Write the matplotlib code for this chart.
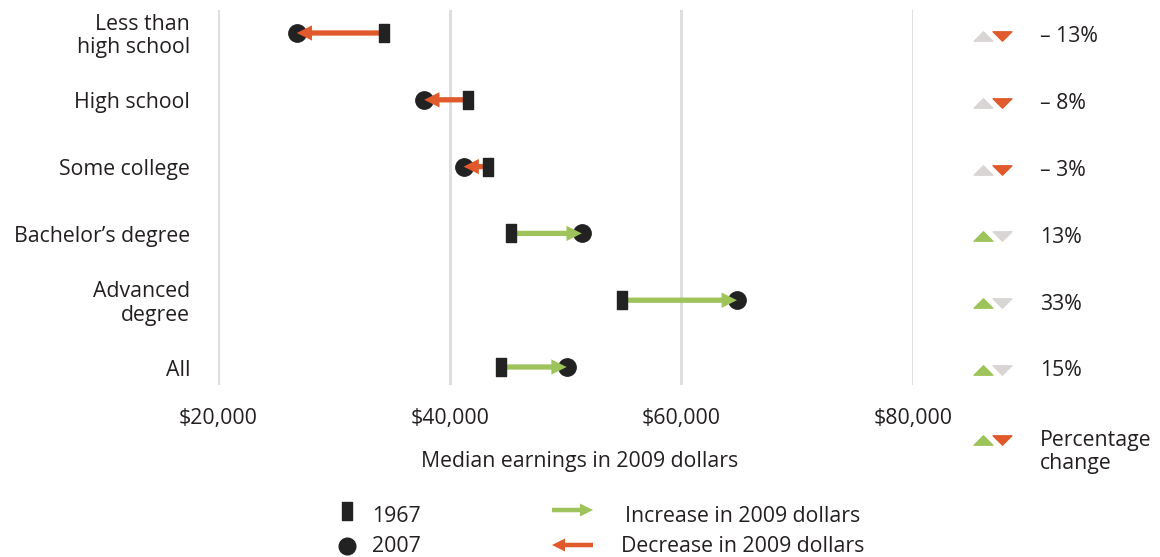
import matplotlib
matplotlib.use('Agg')
import matplotlib.pyplot as plt
import matplotlib.transforms as mtransforms
from matplotlib.patches import FancyArrowPatch
from matplotlib.path import Path

plt.rcParams['font.family'] = ['Open Sans', 'DejaVu Sans']

# data
categories = ["Less than\nhigh school", "High school", "Some college",
              "Bachelor\u2019s degree", "Advanced\ndegree", "All"]
earn_1967 = [34300, 41600, 43300, 45300, 54900, 44400]
earn_2007 = [26800, 37800, 41200, 51400, 64800, 50100]
pct_labels = ["\u2013 13%", "\u2013 8%", "\u2013 3%", "13%", "33%", "15%"]
xticks = [20000, 40000, 60000, 80000]
xtick_labels = ["$20,000", "$40,000", "$60,000", "$80,000"]

GREEN = '#9dc35a'
ORANGE = '#e05a2b'
LIGHT = '#d9d5d5'
DARK = '#222222'
GRID = '#dedede'
TXT = '#231f20'
FS = 15.3
DY = 3  # text sits a few px lower than its centre in the original

W, H = 1160, 557
fig = plt.figure(figsize=(W / 100, H / 100), dpi=100)

def fx(px):
    return px / W

def fy(py):
    return 1 - py / H

# axes: x 218..913 px -> 20000..80000 ; y 10..385 px
ax = fig.add_axes([fx(218), fy(385), fx(913) - fx(218), (385 - 10) / H])
ax.set_xlim(20000, 80000)
row_px = 66.8
ax.set_ylim(5 + (385 - 367) / row_px, -(33 - 10) / row_px)
for s in ax.spines.values():
    s.set_visible(False)
ax.set_xticks([])
ax.set_yticks([])
for t in xticks:
    ax.axvline(t, color=GRID, lw=2.2, zorder=0)

bar_marker = Path([(-0.27, -0.5), (0.27, -0.5), (0.27, 0.5), (-0.27, 0.5), (-0.27, -0.5)],
                  [Path.MOVETO, Path.LINETO, Path.LINETO, Path.LINETO, Path.CLOSEPOLY])
up_tri = Path([(-1, -0.5), (1, -0.5), (0, 0.5), (-1, -0.5)],
              [Path.MOVETO, Path.LINETO, Path.LINETO, Path.CLOSEPOLY])
down_tri = Path([(-1, 0.5), (1, 0.5), (0, -0.5), (-1, 0.5)],
                [Path.MOVETO, Path.LINETO, Path.LINETO, Path.CLOSEPOLY])

arrow_style = 'simple,head_length=0.55,head_width=0.55,tail_width=0.19'

ypos = list(range(len(categories)))
ax.plot(earn_2007, ypos, 'o', color=DARK, ms=12.5, zorder=2, linestyle='none')
for i, (a, b) in enumerate(zip(earn_1967, earn_2007)):
    c = GREEN if b > a else ORANGE
    ax.add_patch(FancyArrowPatch((a, i), (b, i), arrowstyle=arrow_style,
                                 mutation_scale=20, fc=c, ec='none',
                                 shrinkA=0, shrinkB=0, zorder=3))
ax.plot(earn_1967, ypos, marker=bar_marker, color=DARK, ms=12.5, zorder=4, linestyle='none')

# category labels
blend = mtransforms.blended_transform_factory(fig.transFigure, ax.transData)
for i, cat in enumerate(categories):
    ax.text(fx(190), i + DY / row_px, cat, transform=blend, ha='right', va='center',
            multialignment='right', fontsize=FS, color=TXT, linespacing=1.17)

# tick labels and axis title
for t, lab in zip(xticks, xtick_labels):
    ax.text(t, 5 + (416 + DY - 367) / row_px, lab, ha='center', va='center',
            fontsize=FS, color=TXT, clip_on=False)
fig.text(fx(580), fy(459 + DY), "Median earnings in 2009 dollars", ha='center', va='center',
         fontsize=FS, color=TXT)

# percentage change column
for i, (a, b, lab) in enumerate(zip(earn_1967, earn_2007, pct_labels)):
    up_c = GREEN if b > a else LIGHT
    dn_c = ORANGE if b < a else LIGHT
    yy = i + 3 / row_px
    ax.plot([fx(983)], [yy], marker=up_tri, color=up_c, ms=13.5, transform=blend,
            clip_on=False, linestyle='none')
    ax.plot([fx(1002)], [yy], marker=down_tri, color=dn_c, ms=13.5, transform=blend,
            clip_on=False, linestyle='none')
    ax.text(fx(1040), yy + 1 / row_px, lab, transform=blend, ha='left', va='center',
            fontsize=FS, color=TXT)

# legend: percentage change
fig.add_artist(plt.Line2D([fx(983)], [fy(440)], marker=up_tri, color=GREEN, ms=13.5,
                          transform=fig.transFigure, linestyle='none'))
fig.add_artist(plt.Line2D([fx(1002)], [fy(440)], marker=down_tri, color=ORANGE, ms=13.5,
                          transform=fig.transFigure, linestyle='none'))
fig.text(fx(1040), fy(449 + DY), "Percentage\nchange", ha='left', va='center',
         fontsize=FS, color=TXT, linespacing=1.1)

# legend: bottom
fig.add_artist(plt.Line2D([fx(347)], [fy(511)], marker=bar_marker, color=DARK, ms=12.5,
                          transform=fig.transFigure, linestyle='none'))
fig.add_artist(plt.Line2D([fx(347)], [fy(546)], marker='o', color=DARK, ms=12,
                          transform=fig.transFigure, linestyle='none'))
fig.text(fx(372), fy(513 + DY), "1967", ha='left', va='center', fontsize=FS, color=TXT)
fig.text(fx(372), fy(546), "2007", ha='left', va='center', fontsize=FS, color=TXT)

fig.add_artist(FancyArrowPatch(
    (fx(552), fy(510)), (fx(593), fy(510)), transform=fig.transFigure,
    arrowstyle=arrow_style, mutation_scale=17, fc=GREEN, ec='none',
    shrinkA=0, shrinkB=0))
fig.add_artist(FancyArrowPatch(
    (fx(593), fy(545)), (fx(552), fy(545)), transform=fig.transFigure,
    arrowstyle=arrow_style, mutation_scale=17, fc=ORANGE, ec='none',
    shrinkA=0, shrinkB=0))
fig.text(fx(743), fy(513 + DY), "Increase in 2009 dollars", ha='center', va='center',
         fontsize=FS, color=TXT)
fig.text(fx(743), fy(546), "Decrease in 2009 dollars", ha='center', va='center',
         fontsize=FS, color=TXT)

fig.savefig('out.png', dpi=100)
